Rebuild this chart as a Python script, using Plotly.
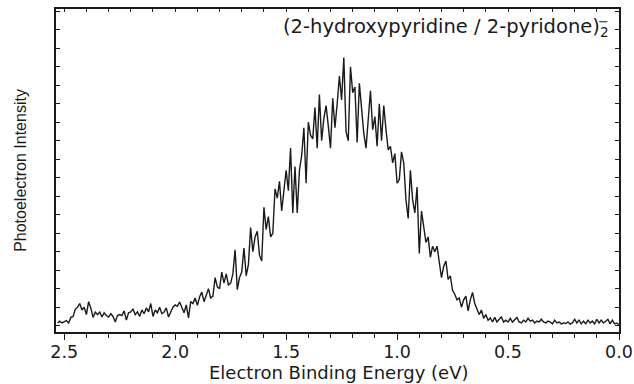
import plotly.graph_objects as go

# ---- data ----
binding_energy_ev = [
    2.53, 2.52, 2.51, 2.50, 2.49, 2.48, 2.47, 2.46, 2.45, 2.44,
    2.43, 2.42, 2.41, 2.40, 2.39, 2.38, 2.37, 2.36, 2.35, 2.34,
    2.33, 2.32, 2.31, 2.30, 2.29, 2.28, 2.27, 2.26, 2.25, 2.24,
    2.23, 2.22, 2.21, 2.20, 2.19, 2.18, 2.17, 2.16, 2.15, 2.14,
    2.13, 2.12, 2.11, 2.10, 2.09, 2.08, 2.07, 2.06, 2.05, 2.04,
    2.03, 2.02, 2.01, 2.00, 1.99, 1.98, 1.97, 1.96, 1.95, 1.94,
    1.93, 1.92, 1.91, 1.90, 1.89, 1.88, 1.87, 1.86, 1.85, 1.84,
    1.83, 1.82, 1.81, 1.80, 1.79, 1.78, 1.77, 1.76, 1.75, 1.74,
    1.73, 1.72, 1.71, 1.70, 1.69, 1.68, 1.67, 1.66, 1.65, 1.64,
    1.63, 1.62, 1.61, 1.60, 1.59, 1.58, 1.57, 1.56, 1.55, 1.54,
    1.53, 1.52, 1.51, 1.50, 1.49, 1.48, 1.47, 1.46, 1.45, 1.44,
    1.43, 1.42, 1.41, 1.40, 1.39, 1.38, 1.37, 1.36, 1.35, 1.34,
    1.33, 1.32, 1.31, 1.30, 1.29, 1.28, 1.27, 1.26, 1.25, 1.24,
    1.23, 1.22, 1.21, 1.20, 1.19, 1.18, 1.17, 1.16, 1.15, 1.14,
    1.13, 1.12, 1.11, 1.10, 1.09, 1.08, 1.07, 1.06, 1.05, 1.04,
    1.03, 1.02, 1.01, 1.00, 0.99, 0.98, 0.97, 0.96, 0.95, 0.94,
    0.93, 0.92, 0.91, 0.90, 0.89, 0.88, 0.87, 0.86, 0.85, 0.84,
    0.83, 0.82, 0.81, 0.80, 0.79, 0.78, 0.77, 0.76, 0.75, 0.74,
    0.73, 0.72, 0.71, 0.70, 0.69, 0.68, 0.67, 0.66, 0.65, 0.64,
    0.63, 0.62, 0.61, 0.60, 0.59, 0.58, 0.57, 0.56, 0.55, 0.54,
    0.53, 0.52, 0.51, 0.50, 0.49, 0.48, 0.47, 0.46, 0.45, 0.44,
    0.43, 0.42, 0.41, 0.40, 0.39, 0.38, 0.37, 0.36, 0.35, 0.34,
    0.33, 0.32, 0.31, 0.30, 0.29, 0.28, 0.27, 0.26, 0.25, 0.24,
    0.23, 0.22, 0.21, 0.20, 0.19, 0.18, 0.17, 0.16, 0.15, 0.14,
    0.13, 0.12, 0.11, 0.10, 0.09, 0.08, 0.07, 0.06, 0.05, 0.04,
    0.03, 0.02, 0.01, 0.00,
]

intensity = [
    0.15, 0.25, 0.15, 0.20, 0.28, 0.15, 0.45, 0.50, 0.90, 1.00,
    1.20, 0.85, 1.00, 0.60, 1.30, 0.95, 0.45, 0.74, 0.60, 0.74,
    0.47, 0.70, 0.55, 0.47, 0.65, 0.50, 0.20, 0.55, 0.60, 0.55,
    0.80, 0.30, 0.70, 0.75, 0.90, 0.60, 0.75, 0.50, 0.85, 0.65,
    0.96, 0.75, 1.20, 0.50, 0.85, 0.70, 1.00, 0.65, 0.74, 0.96,
    0.47, 0.74, 1.00, 1.12, 1.05, 1.28, 1.00, 0.70, 1.12, 0.42,
    1.30, 1.20, 1.50, 1.10, 1.55, 1.82, 1.30, 1.60, 2.00, 1.50,
    1.60, 2.60, 2.10, 2.00, 2.90, 2.30, 2.80, 2.20, 2.30, 2.80,
    4.10, 1.95, 2.60, 2.90, 4.20, 2.70, 3.30, 5.30, 4.00, 4.80,
    5.10, 3.80, 3.50, 6.40, 5.20, 5.90, 4.80, 5.00, 7.40, 6.90,
    7.80, 6.20, 7.20, 8.40, 7.30, 9.60, 6.10, 8.60, 6.10, 8.40,
    9.20, 10.7, 7.70, 11.0, 10.3, 10.1, 11.8, 9.60, 12.5, 10.0,
    11.2, 11.9, 10.8, 9.60, 12.3, 10.7, 12.0, 13.5, 12.2, 14.5,
    10.5, 10.0, 14.0, 12.6, 12.9, 9.90, 13.1, 11.8, 10.4, 9.60,
    11.1, 12.7, 10.6, 11.3, 9.70, 12.0, 10.0, 11.9, 10.6, 9.50,
    9.70, 8.80, 9.30, 7.70, 7.90, 9.40, 8.80, 6.80, 5.80, 8.40,
    6.80, 6.10, 7.50, 3.90, 6.20, 5.20, 4.50, 4.80, 3.70, 4.30,
    4.00, 4.30, 3.50, 2.60, 3.20, 3.50, 2.50, 2.70, 1.90, 1.70,
    1.40, 1.50, 1.00, 1.40, 1.60, 0.80, 1.40, 1.80, 1.20, 0.90,
    0.60, 0.85, 0.40, 0.60, 0.30, 0.42, 0.20, 0.45, 0.20, 0.35,
    0.47, 0.20, 0.30, 0.20, 0.40, 0.20, 0.30, 0.45, 0.20, 0.15,
    0.30, 0.20, 0.40, 0.25, 0.30, 0.15, 0.25, 0.20, 0.35, 0.20,
    0.15, 0.25, 0.20, 0.10, 0.30, 0.15, 0.20, 0.10, 0.15, 0.12,
    0.20, 0.08, 0.15, 0.35, 0.15, 0.30, 0.10, 0.25, 0.10, 0.30,
    0.15, 0.25, 0.10, 0.35, 0.15, 0.30, 0.15, 0.25, 0.35, 0.10,
    0.30, 0.10, 0.15, 0.05,
]

x_tick_values = [2.5, 2.0, 1.5, 1.0, 0.5, 0.0]
x_tick_labels = ["2.5", "2.0", "1.5", "1.0", "0.5", "0.0"]
species_label = "(2-hydroxypyridine / 2-pyridone)<sub>2</sub>"
charge_label = "\u2212"
x_title = "Electron Binding Energy (eV)"
y_title = "Photoelectron Intensity"

INK = "#1a1a1a"
WIDE_FONT = "DejaVu Sans"

fig = go.Figure()
fig.add_trace(go.Scatter(
    x=binding_energy_ev, y=intensity, mode="lines",
    line=dict(color=INK, width=1.4), hoverinfo="skip", showlegend=False,
))
# invisible copy that carries the top (inside-tick) axis
fig.add_trace(go.Scatter(
    x=binding_energy_ev, y=intensity, mode="lines", xaxis="x2",
    line=dict(color="rgba(0,0,0,0)", width=0), hoverinfo="skip", showlegend=False,
))

x_range = [2.537, 0.0]

fig.update_layout(
    width=634, height=384,
    margin=dict(l=56, r=15, t=9, b=52),
    paper_bgcolor="white", plot_bgcolor="white",
    template="none", showlegend=False,
    xaxis=dict(
        range=x_range, autorange=False,
        tickmode="array", tickvals=x_tick_values, ticktext=x_tick_labels,
        ticks="outside", ticklen=6, tickwidth=1.3, tickcolor=INK,
        ticklabelstandoff=-3,
        minor=dict(tickmode="linear", tick0=0, dtick=0.1, ticks="outside",
                   ticklen=4, tickwidth=1, tickcolor=INK, showgrid=False),
        showline=True, linecolor=INK, linewidth=1.5, mirror=True,
        showgrid=False, zeroline=False, automargin=False,
        tickfont=dict(family=WIDE_FONT, size=17.5, color=INK),
    ),
    xaxis2=dict(
        range=x_range, autorange=False, overlaying="x", side="top", anchor="y",
        tickmode="linear", tick0=0, dtick=0.1,
        ticks="inside", ticklen=3, tickwidth=1, tickcolor=INK,
        showticklabels=False, showline=False, showgrid=False, zeroline=False,
    ),
    yaxis=dict(
        range=[-0.34, 17.12], autorange=False,
        tickmode="linear", tick0=0, dtick=1,
        ticks="inside", ticklen=4, tickwidth=1, tickcolor=INK,
        showticklabels=False, showline=True, linecolor=INK, linewidth=1.5,
        mirror="ticks", showgrid=False, zeroline=False, automargin=False,
        title=dict(text=y_title, font=dict(family="Liberation Sans", size=16, color=INK), standoff=24),
    ),
    annotations=[
        dict(text=x_title, xref="paper", yref="paper", x=0.502, y=-0.125,
             xanchor="center", yanchor="middle", showarrow=False,
             font=dict(family=WIDE_FONT, size=18, color=INK)),
        dict(text=species_label, xref="paper", yref="paper", x=0.399, y=0.944,
             xanchor="left", yanchor="middle", showarrow=False,
             font=dict(family=WIDE_FONT, size=19.5, color=INK)),
        dict(text=charge_label, xref="paper", yref="paper", x=0.9725, y=0.962,
             xanchor="center", yanchor="middle", showarrow=False,
             font=dict(family=WIDE_FONT, size=13, color=INK)),
    ],
)

fig.write_html("out.html", config={"displayModeBar": False},
               post_script="document.body.style.margin='0px';")
